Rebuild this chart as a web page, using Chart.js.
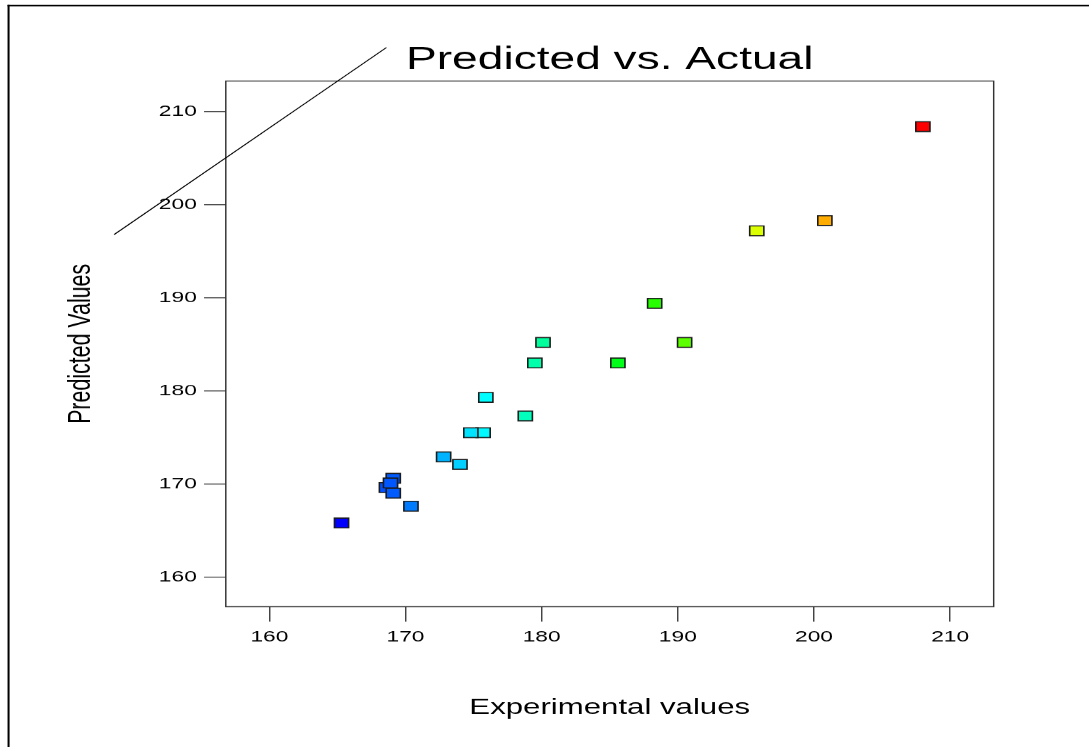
<!DOCTYPE html>
<html>
<head>
<meta charset="utf-8">
<title>Predicted vs. Actual</title>
<script src="https://cdn.jsdelivr.net/npm/chart.js@4.4.1/dist/chart.umd.min.js"></script>
<style>
  html, body { margin: 0; padding: 0; background: #fff; }
</style>
</head>
<body>
<canvas id="chart" width="751" height="747" style="display:block;width:1089px;height:747px;"></canvas>
<script>
// Response data: measured (experimental) vs. model-predicted values
const experimental = [208.0, 200.8, 195.8, 188.3, 190.5, 185.6, 180.1, 179.5, 175.9, 178.8,
                      175.7, 174.8, 172.8, 174.0, 170.4, 165.3, 168.6, 169.1, 168.9, 169.1];
const predicted    = [208.4, 198.3, 197.2, 189.4, 185.2, 183.0, 185.2, 183.0, 179.3, 177.3,
                      175.5, 175.5, 172.9, 172.1, 167.6, 165.8, 169.6, 170.6, 170.1, 169.0];

// Tick labels and axis ranges
const axisTicks = [160, 170, 180, 190, 200, 210];
const xRange = [156.8, 213.2];
const yRange = [156.8, 213.3];

// Reference line (slope 1)
const refLineX = [148.6, 168.6];
const refLineY = [196.8, 216.9];

// Rainbow colour ramp: blue -> cyan -> green -> yellow -> red
function rampColor(t) {
  t = Math.max(0, Math.min(1, t));
  let r, g, b;
  if (t < 0.25)      { r = 0; g = 4 * t; b = 1; }
  else if (t < 0.5)  { r = 0; g = 1; b = 1 - 4 * (t - 0.25); }
  else if (t < 0.75) { r = 4 * (t - 0.5); g = 1; b = 0; }
  else               { r = 1; g = 1 - 4 * (t - 0.75); b = 0; }
  const h = v => Math.round(v * 255).toString(16).padStart(2, '0');
  return '#' + h(r) + h(g) + h(b);
}
const lo = Math.min(...experimental), hi = Math.max(...experimental);
const pointColors = experimental.map(v => rampColor((v - lo) / (hi - lo)));

const points = experimental.map((x, i) => ({ x, y: predicted[i] }));
const refLine = refLineX.map((x, i) => ({ x, y: refLineY[i] }));

Chart.defaults.font.family = "'Liberation Sans', Arial, sans-serif";
Chart.defaults.color = '#000';

const setTicks = s => { s.ticks = axisTicks.map(v => ({ value: v })); };

const framePlugin = {
  id: 'frame',
  beforeDraw(chart) {
    const ctx = chart.ctx;
    ctx.save();
    ctx.fillStyle = '#fff';
    ctx.fillRect(0, 0, chart.width, chart.height);
    ctx.fillStyle = '#000';
    ctx.fillRect(5.2, 4.7, 1.4, chart.height + 10);
    ctx.fillRect(5.2, 4.7, chart.width + 10, 1.7);
    ctx.restore();
  },
  beforeDatasetsDraw(chart) {
    const { ctx, chartArea: a } = chart;
    ctx.save();
    ctx.strokeStyle = '#333';
    ctx.lineWidth = 1;
    ctx.strokeRect(a.left, a.top, a.right - a.left, a.bottom - a.top);
    ctx.restore();
  }
};

const tickGrid = {
  display: true, drawOnChartArea: false, drawTicks: true,
  tickLength: 15, color: '#444', lineWidth: 1
};

new Chart(document.getElementById('chart'), {
  type: 'scatter',
  data: {
    datasets: [
      {
        data: refLine,
        showLine: true,
        borderColor: '#000',
        borderWidth: 0.9,
        pointRadius: 0,
        pointHoverRadius: 0,
        clip: false
      },
      {
        data: points,
        pointStyle: 'rect',
        pointRadius: 6.9,
        pointHoverRadius: 6.9,
        pointBackgroundColor: pointColors,
        pointBorderColor: '#1a1a1a',
        pointBorderWidth: 1.1,
        pointHoverBorderWidth: 1.1
      }
    ]
  },
  options: {
    responsive: false,
    devicePixelRatio: 1.4502,
    animation: false,
    events: [],
    layout: { padding: { left: 39, right: 65.8, top: 0, bottom: 0 } },
    plugins: {
      legend: { display: false },
      tooltip: { enabled: false },
      title: {
        display: true,
        text: 'Predicted vs. Actual',
        fullSize: false,
        color: '#000',
        font: { size: 31.8, weight: 'normal' },
        padding: { top: 40.9, bottom: 1.94 }
      }
    },
    scales: {
      x: {
        type: 'linear',
        min: xRange[0], max: xRange[1],
        afterBuildTicks: setTicks,
        afterFit: s => { s.height = 140.5; },
        grid: tickGrid,
        border: { display: false },
        ticks: { padding: 6, color: '#000', font: { size: 15.7 }, maxRotation: 0, autoSkip: false },
        title: {
          display: true, text: 'Experimental values', color: '#000',
          font: { size: 21.5 }, padding: { top: 0, bottom: 26.6 }
        }
      },
      y: {
        type: 'linear',
        min: yRange[0], max: yRange[1],
        afterBuildTicks: setTicks,
        afterFit: s => { s.width = 116.7; },
        grid: tickGrid,
        border: { display: false },
        ticks: { padding: 5, color: '#000', font: { size: 15.7 }, autoSkip: false },
        title: {
          display: true, text: 'Predicted Values', color: '#000',
          font: { size: 21.4 }, padding: { top: 4, bottom: 0 }
        }
      }
    }
  },
  plugins: [framePlugin]
});
</script>
</body>
</html>
